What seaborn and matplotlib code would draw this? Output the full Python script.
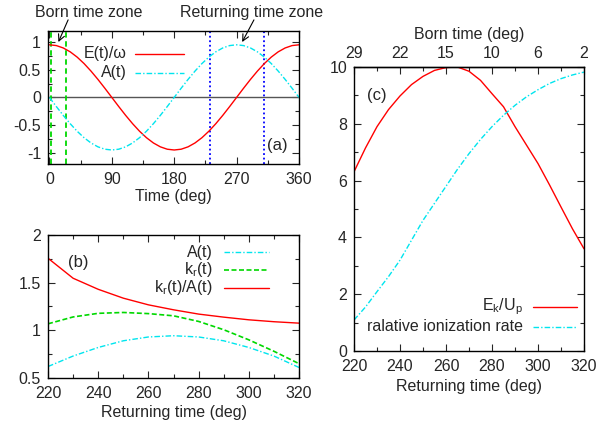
import matplotlib
matplotlib.use("Agg")
import matplotlib.pyplot as plt
import seaborn as sns
import pandas as pd
from matplotlib.ticker import AutoMinorLocator
from matplotlib.lines import Line2D

# panel (a): one optical cycle
time_deg = [0, 10, 20, 30, 40, 50, 60, 70, 80, 90, 100, 110, 120, 130, 140, 150, 160, 170, 180,
            190, 200, 210, 220, 230, 240, 250, 260, 270, 280, 290, 300, 310, 320, 330, 340, 350, 360]
field = [0.95, 0.936, 0.893, 0.823, 0.728, 0.611, 0.475, 0.325, 0.165, 0.0,
         -0.165, -0.325, -0.475, -0.611, -0.728, -0.823, -0.893, -0.936, -0.95,
         -0.936, -0.893, -0.823, -0.728, -0.611, -0.475, -0.325, -0.165, 0.0,
         0.165, 0.325, 0.475, 0.611, 0.728, 0.823, 0.893, 0.936, 0.95]
vector_pot = [0.0, -0.165, -0.325, -0.475, -0.611, -0.728, -0.823, -0.893, -0.936, -0.95,
              -0.936, -0.893, -0.823, -0.728, -0.611, -0.475, -0.325, -0.165, 0.0,
              0.165, 0.325, 0.475, 0.611, 0.728, 0.823, 0.893, 0.936, 0.95,
              0.936, 0.893, 0.823, 0.728, 0.611, 0.475, 0.325, 0.165, 0.0]
born_zone = [2, 24]
return_zone = [231, 310]

# panel (b): returning time window
ret_time = [220, 230, 240, 250, 260, 270, 280, 290, 300, 310, 320]
a_ret = [0.62, 0.73, 0.82, 0.89, 0.93, 0.943, 0.93, 0.89, 0.82, 0.73, 0.61]
kr_ret = [1.068, 1.14, 1.178, 1.187, 1.175, 1.152, 1.093, 1.006, 0.90, 0.78, 0.65]
ratio_ret = [1.756, 1.546, 1.43, 1.337, 1.267, 1.215, 1.17, 1.138, 1.11, 1.09, 1.075]

# panel (c)
ret_c = [220, 225, 230, 235, 240, 245, 250, 255, 260, 265, 270, 275, 280, 285, 290, 295,
         300, 305, 310, 315, 320]
ek_up = [6.31, 7.15, 7.9, 8.5, 8.98, 9.38, 9.67, 9.88, 9.98, 10.0, 9.85, 9.53, 9.06, 8.6,
         7.9, 7.25, 6.6, 5.85, 5.07, 4.3, 3.6]
ion_rate = [1.09, 1.55, 2.09, 2.62, 3.2, 3.9, 4.6, 5.2, 5.8, 6.4, 6.95, 7.45, 7.9, 8.3,
            8.65, 8.95, 9.2, 9.42, 9.59, 9.72, 9.82]
born_ticks = [220, 240, 260, 280, 300, 320]
born_labels = ["29", "22", "15", "10", "6", "2"]

RED = "#ff0000"
CYAN = "#00e5ee"
GREEN = "#00d800"
BLUE = "#0000ff"
DASHDOT = (0, (4, 1.5, 1, 1.5))
FS = 11.5

sns.set_style("ticks")
plt.rcParams["font.family"] = ["Liberation Sans", "DejaVu Sans"]
plt.rcParams["font.size"] = FS
plt.rcParams["axes.linewidth"] = 1.0

fig = plt.figure(figsize=(6.13, 4.30), dpi=100)
ax_a = fig.add_axes([0.0783, 0.619, 0.4095, 0.309])
ax_b = fig.add_axes([0.0783, 0.121, 0.4095, 0.3326])
ax_c = fig.add_axes([0.5775, 0.1837, 0.3752, 0.6605])


def gnuplot_frame(ax):
    ax.xaxis.set_minor_locator(AutoMinorLocator(2))
    ax.yaxis.set_minor_locator(AutoMinorLocator(2))
    ax.tick_params(which="both", direction="in", top=True, right=True, labelsize=FS)
    ax.tick_params(axis="x", pad=6)
    ax.tick_params(axis="y", pad=5)
    ax.tick_params(which="major", length=5, width=0.8)
    ax.tick_params(which="minor", length=3, width=0.8)
    for s in ax.spines.values():
        s.set_visible(True)
        s.set_color("black")


def gp_legend(ax, entries, x_text, y0, dy, x0, x1):
    # gnuplot-style key: right aligned text, line sample on the right
    for i, (label, color, ls, lw) in enumerate(entries):
        y = y0 - i * dy
        ax.text(x_text, y, label, transform=ax.transAxes, ha="right", va="center", fontsize=FS)
        ax.add_line(Line2D([x0, x1], [y, y], transform=ax.transAxes, color=color,
                           linestyle=ls, linewidth=lw))


# ---- (a)
df_a = pd.DataFrame({"t": time_deg, "E": field, "A": vector_pot})
ax_a.axhline(0, color="#555555", linewidth=1.0, zorder=1)
for x in born_zone:
    ax_a.axvline(x, color=GREEN, linestyle=(0, (3, 2)), linewidth=1.3)
for x in return_zone:
    ax_a.axvline(x, color=BLUE, linestyle=(0, (1, 1.5)), linewidth=1.3)
sns.lineplot(data=df_a, x="t", y="E", ax=ax_a, color=RED, linewidth=1.0)
sns.lineplot(data=df_a, x="t", y="A", ax=ax_a, color=CYAN, linewidth=1.0, linestyle=DASHDOT)
ax_a.set_xlim(-2, 360)
ax_a.set_ylim(-1.2, 1.2)
ax_a.set_xticks([0, 90, 180, 270, 360])
ax_a.set_yticks([-1, -0.5, 0, 0.5, 1])
ax_a.set_yticklabels(["-1", "-0.5", "0", "0.5", "1"])
ax_a.set_xlabel("Time (deg)", fontsize=FS, labelpad=1)
ax_a.set_ylabel("")
gnuplot_frame(ax_a)
gp_legend(ax_a, [("E(t)/\u03c9", RED, "-", 1.0), ("A(t)", CYAN, DASHDOT, 1.0)],
          0.315, 0.83, 0.145, 0.345, 0.54)
ax_a.text(0.915, 0.14, "(a)", transform=ax_a.transAxes, ha="center", va="center", fontsize=FS + 0.5)
ax_a.text(57, 1.53, "Born time zone", ha="center", va="center", fontsize=FS)
ax_a.annotate("", xy=(13, 1.0), xytext=(27, 1.4),
              annotation_clip=False,
              arrowprops=dict(arrowstyle="->", color="black", lw=0.8, shrinkA=0, shrinkB=0))
ax_a.text(291, 1.53, "Returning time zone", ha="center", va="center", fontsize=FS, clip_on=False)
ax_a.annotate("", xy=(278, 1.0), xytext=(295, 1.4),
              annotation_clip=False,
              arrowprops=dict(arrowstyle="->", color="black", lw=0.8, shrinkA=0, shrinkB=0))

# ---- (b)
df_b = pd.DataFrame({"t": ret_time, "A": a_ret, "kr": kr_ret, "ratio": ratio_ret})
sns.lineplot(data=df_b, x="t", y="A", ax=ax_b, color=CYAN, linewidth=1.0, linestyle=DASHDOT)
sns.lineplot(data=df_b, x="t", y="kr", ax=ax_b, color=GREEN, linewidth=1.2, linestyle=(0, (3, 1.5)))
sns.lineplot(data=df_b, x="t", y="ratio", ax=ax_b, color=RED, linewidth=1.0)
ax_b.set_xlim(220, 320)
ax_b.set_ylim(0.5, 2)
ax_b.set_xticks([220, 240, 260, 280, 300, 320])
ax_b.set_yticks([0.5, 1, 1.5, 2])
ax_b.set_yticklabels(["0.5", "1", "1.5", "2"])
ax_b.set_xlabel("Returning time (deg)", fontsize=FS, labelpad=3)
ax_b.set_ylabel("")
gnuplot_frame(ax_b)
gp_legend(ax_b, [("A(t)", CYAN, DASHDOT, 1.0), ("k$_\\mathregular{r}$(t)", GREEN, (0, (3, 1.5)), 1.2),
                 ("k$_\\mathregular{r}$(t)/A(t)", RED, "-", 1.0)],
          0.655, 0.88, 0.125, 0.70, 0.88)
ax_b.text(0.12, 0.81, "(b)", transform=ax_b.transAxes, ha="center", va="center", fontsize=FS + 0.5)

# ---- (c)
df_c = pd.DataFrame({"t": ret_c, "ek": ek_up, "ion": ion_rate})
sns.lineplot(data=df_c, x="t", y="ek", ax=ax_c, color=RED, linewidth=1.0)
sns.lineplot(data=df_c, x="t", y="ion", ax=ax_c, color=CYAN, linewidth=1.0, linestyle=DASHDOT)
ax_c.set_xlim(220, 320)
ax_c.set_ylim(0, 10)
ax_c.set_xticks([220, 240, 260, 280, 300, 320])
ax_c.set_yticks([0, 2, 4, 6, 8, 10])
ax_c.set_xlabel("Returning time (deg)", fontsize=FS, labelpad=3)
ax_c.set_ylabel("")
gnuplot_frame(ax_c)
ax_c.tick_params(top=False, which="both")
gp_legend(ax_c, [("E$_\\mathregular{k}$/U$_\\mathregular{p}$", RED, "-", 1.0),
                 ("ralative ionization rate", CYAN, DASHDOT, 1.0)],
          0.735, 0.155, 0.07, 0.78, 0.97)
ax_c.text(0.1, 0.9, "(c)", transform=ax_c.transAxes, ha="center", va="center", fontsize=FS + 0.5)

top = ax_c.secondary_xaxis("top")
top.set_xticks(born_ticks)
top.set_xticklabels(born_labels)
top.xaxis.set_minor_locator(AutoMinorLocator(2))
top.tick_params(which="both", direction="in", labelsize=FS, pad=4)
top.tick_params(which="major", length=5, width=0.8)
top.tick_params(which="minor", length=3, width=0.8)
top.set_xlabel("Born time (deg)", fontsize=FS, labelpad=5)

fig.savefig("out.png", dpi=100)
